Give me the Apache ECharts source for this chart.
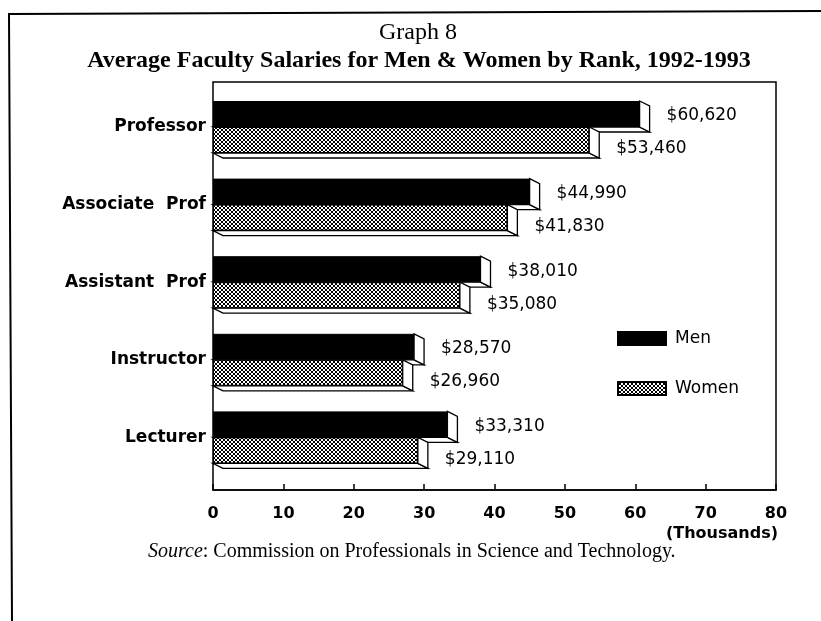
<!DOCTYPE html>
<html><head><meta charset="utf-8">
<script src="https://cdn.jsdelivr.net/npm/echarts@6/dist/echarts.min.js"></script>
<style>html,body{margin:0;padding:0;background:#fff}#c{width:821px;height:621px}</style>
</head><body><div id="c"></div>
<script>
const categories = ['Professor', 'Associate  Prof', 'Assistant  Prof', 'Instructor', 'Lecturer'];
const menSalaries = [60.62, 44.99, 38.01, 28.57, 33.31];
const womenSalaries = [53.46, 41.83, 35.08, 26.96, 29.11];
const menLabels = ['$60,620', '$44,990', '$38,010', '$28,570', '$33,310'];
const womenLabels = ['$53,460', '$41,830', '$35,080', '$26,960', '$29,110'];
const seriesNames = ['Men', 'Women'];
const axisMin = 0, axisMax = 80, axisStep = 10;

function hatch() {
  const c = document.createElement('canvas');
  c.width = 4; c.height = 4;
  const g = c.getContext('2d');
  g.fillStyle = '#fff'; g.fillRect(0, 0, 4, 4);
  g.strokeStyle = '#000'; g.lineWidth = 1;
  g.beginPath();
  g.moveTo(0, 0); g.lineTo(4, 4);
  g.moveTo(4, 0); g.lineTo(0, 4);
  g.stroke();
  return c;
}
const hatchFill = { image: hatch(), repeat: 'repeat' };
const BW = 26, DX = 10, DY = 5;

function extrude(upper) {
  return function (params, api) {
    const v = api.value(0), ci = api.value(1);
    const p0 = api.coord([0, ci]);
    const p1 = api.coord([v, ci]);
    const x0 = p0[0], x1 = p1[0];
    const y0 = upper ? p0[1] - BW : p0[1];
    const y1 = upper ? p0[1] : p0[1] + BW;
    const st = { fill: '#fff', stroke: '#000', lineWidth: 1.3 };
    return { type: 'group', children: [
      { type: 'polygon', shape: { points: [[x0, y1], [x0 + DX, y1 + DY], [x1 + DX, y1 + DY], [x1, y1]] }, style: st },
      { type: 'polygon', shape: { points: [[x1, y0], [x1 + DX, y0 + DY], [x1 + DX, y1 + DY], [x1, y1]] }, style: st }
    ]};
  };
}

const chart = echarts.init(document.getElementById('c'));
const sans = 'DejaVu Sans';
const serif = 'Liberation Serif';
chart.setOption({
  animation: false,
  backgroundColor: '#fff',
  grid: [
    { left: 213, right: 45, top: 82, bottom: 131, show: true, borderColor: '#000', borderWidth: 1.5, backgroundColor: 'transparent' },
    { left: 213, right: 45, top: 88.2, bottom: 144.8 }
  ],
  xAxis: [
    { type: 'value', gridIndex: 0, min: axisMin, max: axisMax, interval: axisStep,
      axisLine: { show: true, lineStyle: { color: '#000', width: 1.5 } },
      axisTick: { show: true, inside: true, length: 6, lineStyle: { color: '#000', width: 1.5 } },
      splitLine: { show: false },
      axisLabel: { color: '#000', fontFamily: sans, fontWeight: 'bold', fontSize: 16, margin: 16 } },
    { type: 'value', gridIndex: 1, min: axisMin, max: axisMax, show: false }
  ],
  yAxis: [
    { type: 'value', gridIndex: 0, show: false },
    { type: 'category', gridIndex: 1, data: categories, inverse: true,
      axisLine: { show: false }, axisTick: { show: false },
      axisLabel: { color: '#000', fontFamily: sans, fontWeight: 'bold', fontSize: 17, margin: 7 } }
  ],
  legend: {
    data: seriesNames, orient: 'vertical', left: 612, top: 325,
    itemWidth: 48, itemHeight: 13, itemGap: 33, icon: 'rect',
    textStyle: { color: '#000', fontFamily: sans, fontSize: 17, padding: [0, 0, 0, 4] }
  },
  series: [
    { type: 'custom', name: 'men3d', xAxisIndex: 1, yAxisIndex: 1, z: 1,
      renderItem: extrude(true), encode: { x: 0, y: 1 },
      data: menSalaries.map((v, i) => [v, i]) },
    { type: 'custom', name: 'women3d', xAxisIndex: 1, yAxisIndex: 1, z: 2,
      renderItem: extrude(false), encode: { x: 0, y: 1 },
      data: womenSalaries.map((v, i) => [v, i]) },
    { type: 'bar', name: seriesNames[0], xAxisIndex: 1, yAxisIndex: 1, z: 3,
      data: menSalaries, barWidth: BW, barGap: '0%',
      itemStyle: { color: '#000', borderColor: '#000', borderWidth: 1 },
      label: { show: true, position: 'right', distance: 27, offset: [0, 2], color: '#000', fontFamily: sans, fontSize: 17,
        formatter: p => menLabels[p.dataIndex] } },
    { type: 'bar', name: seriesNames[1], xAxisIndex: 1, yAxisIndex: 1, z: 3,
      data: womenSalaries, barWidth: BW, barGap: '0%',
      itemStyle: { color: hatchFill, borderColor: '#000', borderWidth: 1 },
      label: { show: true, position: 'right', distance: 27, offset: [0, 9], color: '#000', fontFamily: sans, fontSize: 17,
        formatter: p => womenLabels[p.dataIndex] } }
  ],
  graphic: [
    { type: 'polyline', shape: { points: [[821, 11], [9, 14], [12, 621]] }, style: { stroke: '#000', lineWidth: 2, fill: null } },
    { type: 'text', x: 418, y: 33, style: { text: 'Graph 8', font: '24px "Liberation Serif"', fill: '#000', textAlign: 'center', textVerticalAlign: 'middle' } },
    { type: 'text', x: 419, y: 61, style: { text: 'Average Faculty Salaries for Men & Women by Rank, 1992-1993', font: 'bold 24px "Liberation Serif"', fill: '#000', textAlign: 'center', textVerticalAlign: 'middle' } },
    { type: 'text', x: 778, y: 534, style: { text: '(Thousands)', font: 'bold 16px "DejaVu Sans"', fill: '#000', textAlign: 'right', textVerticalAlign: 'middle' } },
    { type: 'text', x: 148, y: 552, style: {
        text: '{i|Source}{n|: Commission on Professionals in Science and Technology.}',
        rich: { i: { fontStyle: 'italic', fontFamily: serif, fontSize: 20, fill: '#000' }, n: { fontFamily: serif, fontSize: 20, fill: '#000' } },
        textAlign: 'left', textVerticalAlign: 'middle' } }
  ]
});
</script></body></html>
